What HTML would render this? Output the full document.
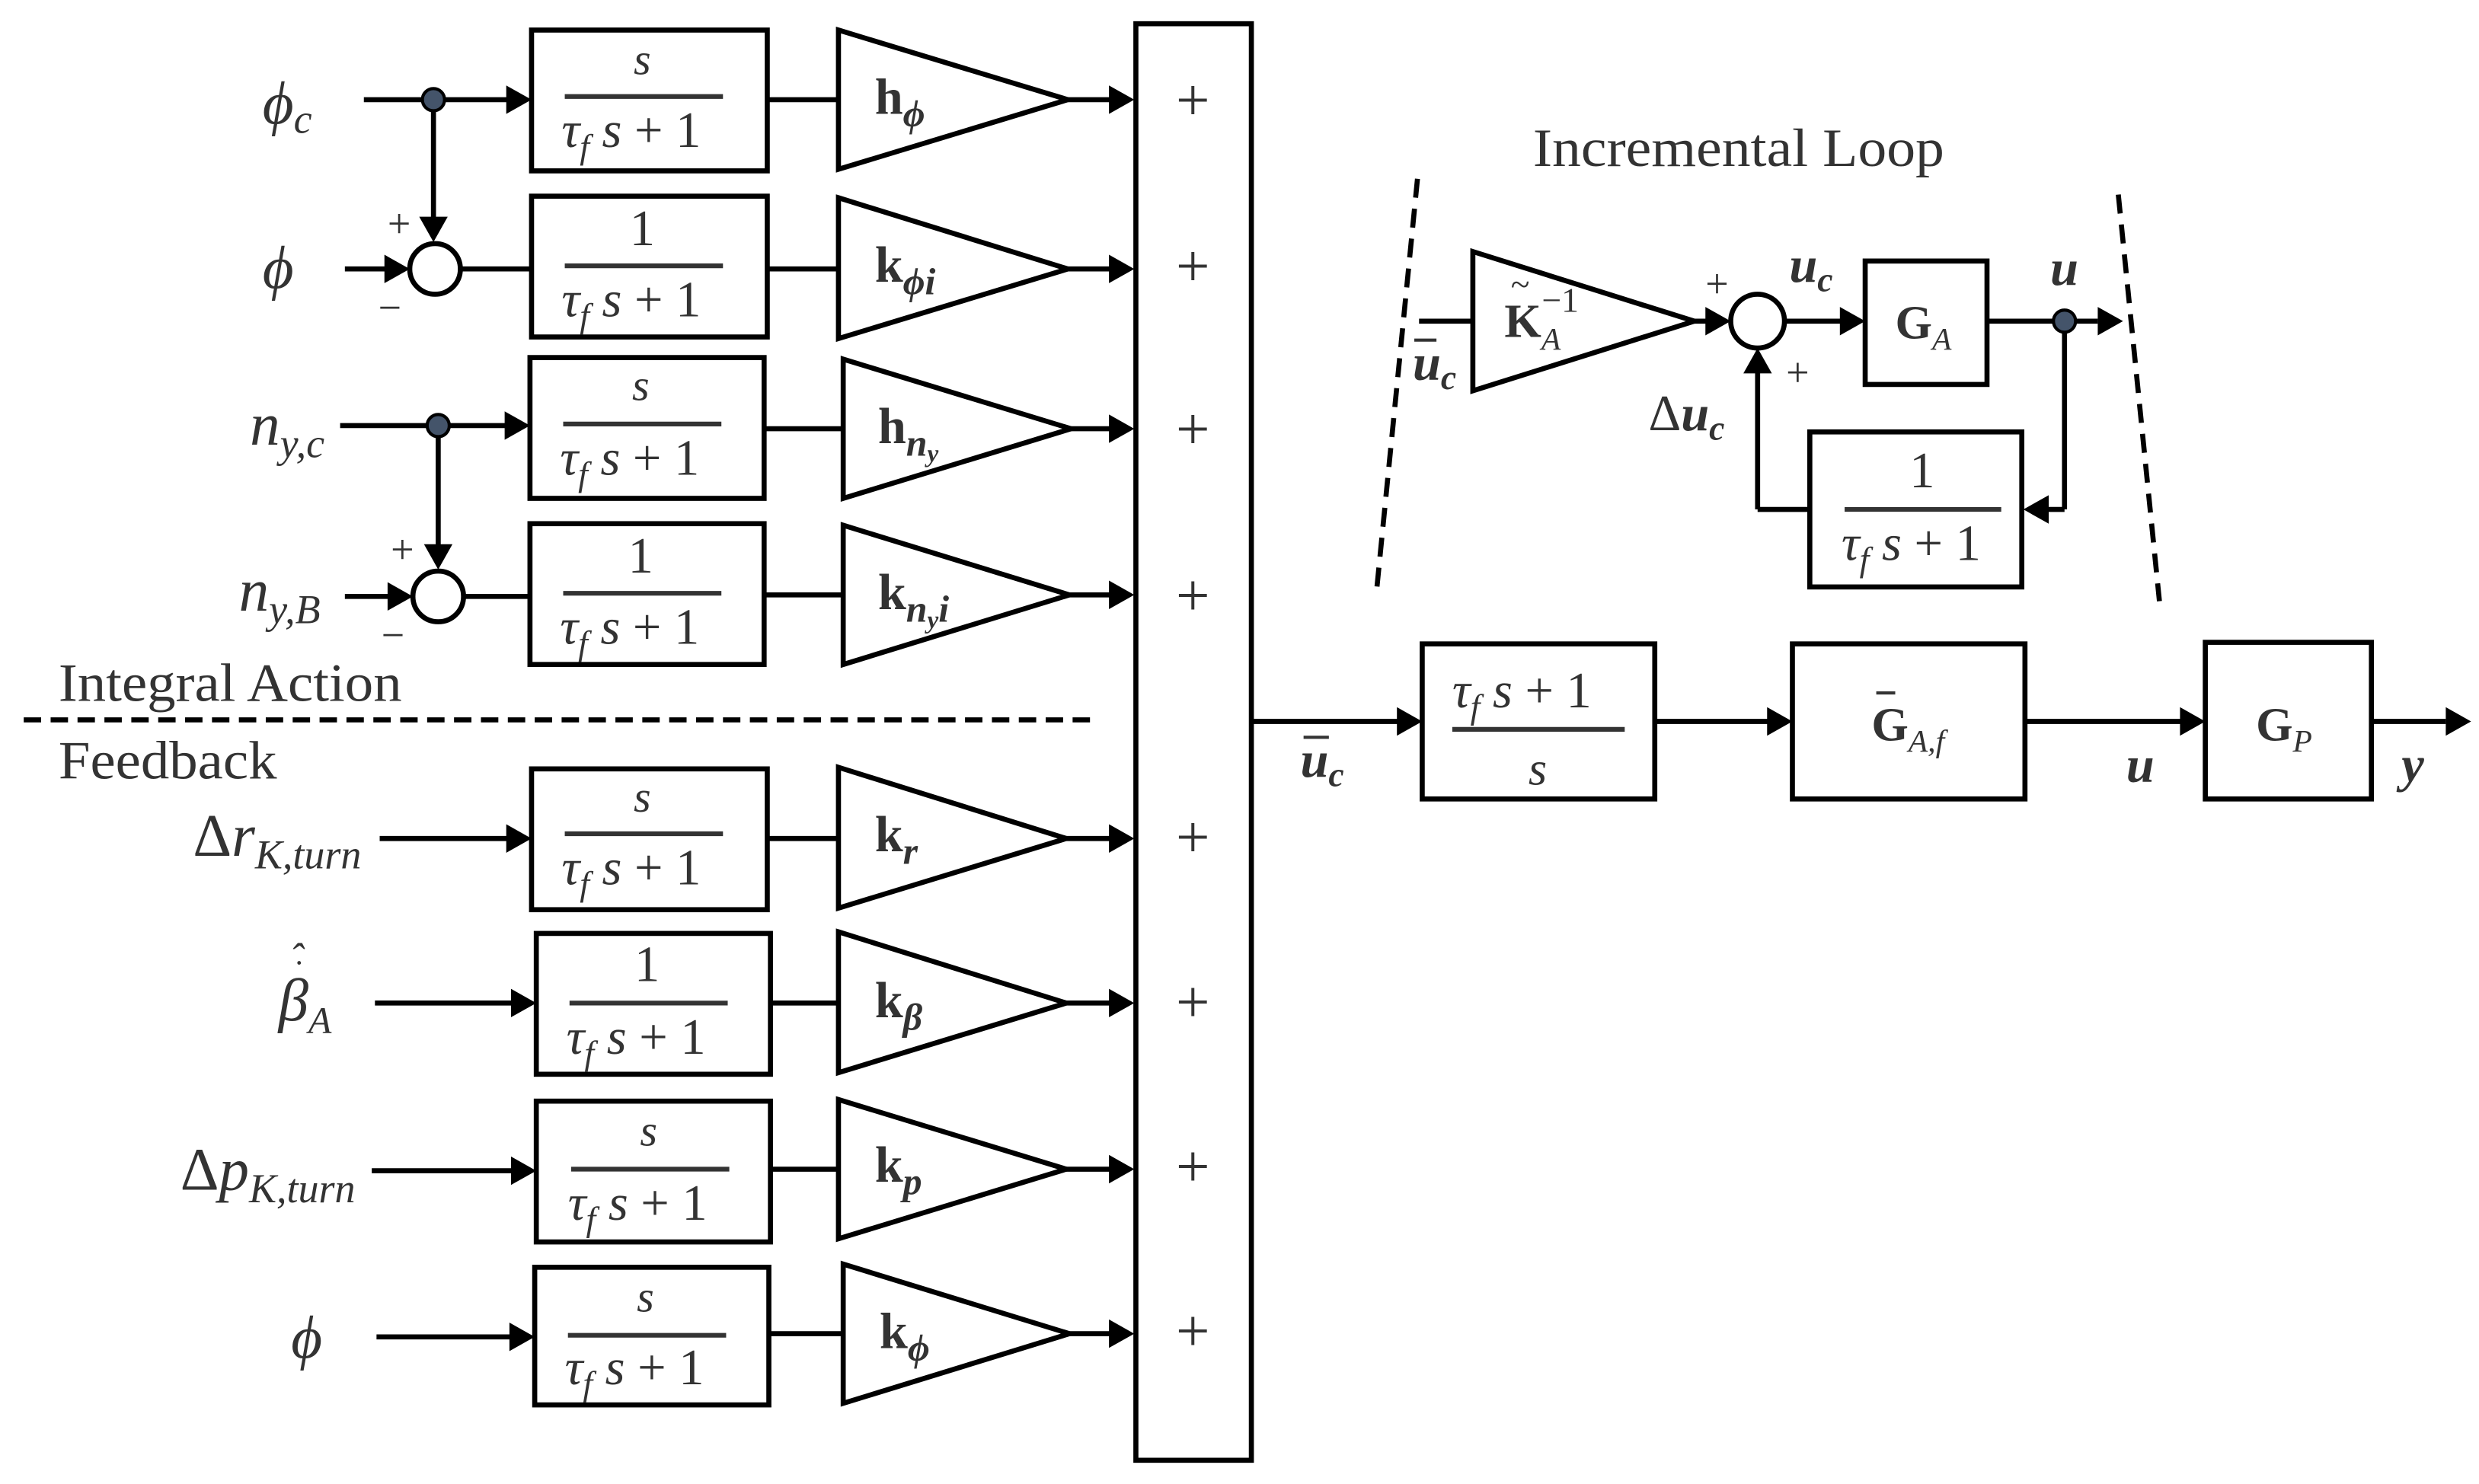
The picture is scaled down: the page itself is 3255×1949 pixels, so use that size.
<!DOCTYPE html>
<html><head><meta charset="utf-8">
<style>
html,body{margin:0;padding:0;background:#fff;}
svg{display:block;}
text{font-family:"Liberation Serif",serif;fill:#333;}
.i{font-style:italic;}
.b{font-weight:bold;}
</style></head>
<body>
<svg width="3255" height="1949" viewBox="0 0 1567 938" preserveAspectRatio="none" xmlns="http://www.w3.org/2000/svg">
<g stroke="#000" stroke-width="3.2" fill="none">
<rect x="336" y="19" width="149" height="89"/>
<rect x="336" y="124" width="149" height="89"/>
<rect x="335" y="226" width="148" height="89"/>
<rect x="335" y="331" width="148" height="89"/>
<rect x="336" y="486" width="149" height="89"/>
<rect x="339" y="590" width="148" height="89"/>
<rect x="339" y="696" width="148" height="89"/>
<rect x="338" y="801" width="148" height="87"/>
<polygon points="530,19 675,63 530,107"/>
<polygon points="530,125 675,170 530,214"/>
<polygon points="533,227 677,271 533,315"/>
<polygon points="533,332 676,376 533,420"/>
<polygon points="530,485 674,530 530,574"/>
<polygon points="530,589 674,634 530,678"/>
<polygon points="530,695 674,739 530,783"/>
<polygon points="533,799 676,843 533,887"/>
<line x1="485" y1="63" x2="530" y2="63"/>
<line x1="485" y1="170" x2="530" y2="170"/>
<line x1="483" y1="271" x2="533" y2="271"/>
<line x1="483" y1="376" x2="533" y2="376"/>
<line x1="485" y1="530" x2="530" y2="530"/>
<line x1="487" y1="634" x2="530" y2="634"/>
<line x1="487" y1="739" x2="530" y2="739"/>
<line x1="486" y1="843" x2="533" y2="843"/>
<line x1="675" y1="63" x2="705" y2="63"/>
<line x1="675" y1="170" x2="705" y2="170"/>
<line x1="677" y1="271" x2="705" y2="271"/>
<line x1="676" y1="376" x2="705" y2="376"/>
<line x1="674" y1="530" x2="705" y2="530"/>
<line x1="674" y1="634" x2="705" y2="634"/>
<line x1="674" y1="739" x2="705" y2="739"/>
<line x1="676" y1="843" x2="705" y2="843"/>
<rect x="718" y="15" width="73" height="908"/>
<line x1="230" y1="63" x2="322" y2="63"/>
<line x1="274" y1="63" x2="274" y2="140"/>
<line x1="218" y1="170" x2="245" y2="170"/>
<circle cx="275" cy="170" r="16" fill="#fff"/>
<line x1="291" y1="170" x2="336" y2="170"/>
<line x1="215" y1="269" x2="321" y2="269"/>
<line x1="277" y1="269" x2="277" y2="347"/>
<line x1="218" y1="377" x2="248" y2="377"/>
<circle cx="277" cy="377" r="16" fill="#fff"/>
<line x1="293" y1="377" x2="335" y2="377"/>
<line x1="240" y1="530" x2="322" y2="530"/>
<line x1="237" y1="634" x2="325" y2="634"/>
<line x1="235" y1="740" x2="325" y2="740"/>
<line x1="238" y1="845" x2="324" y2="845"/>
<line x1="15" y1="455" x2="690" y2="455" stroke-dasharray="11,6"/>
<line x1="791" y1="456" x2="885" y2="456"/>
<rect x="899" y="407" width="147" height="98"/>
<line x1="1046" y1="456" x2="1120" y2="456"/>
<rect x="1133" y="407" width="147" height="98"/>
<line x1="1280" y1="456" x2="1380" y2="456"/>
<rect x="1394" y="406" width="105" height="99"/>
<line x1="1499" y1="456" x2="1546" y2="456"/>
<line x1="896" y1="113" x2="870" y2="375" stroke-dasharray="12,7"/>
<line x1="1339" y1="123" x2="1365" y2="380" stroke-dasharray="12,7"/>
<line x1="897" y1="203" x2="931" y2="203"/>
<polygon points="931,159 1071,203 931,247"/>
<line x1="1071" y1="203" x2="1082" y2="203"/>
<circle cx="1111" cy="203" r="17" fill="#fff"/>
<line x1="1128" y1="203" x2="1165" y2="203"/>
<rect x="1179" y="165" width="77" height="78"/>
<line x1="1256" y1="203" x2="1326" y2="203"/>
<line x1="1305" y1="203" x2="1305" y2="322"/>
<line x1="1305" y1="322" x2="1292" y2="322"/>
<rect x="1144" y="273" width="134" height="98"/>
<line x1="1144" y1="322" x2="1111" y2="322"/>
<line x1="1111" y1="322" x2="1111" y2="234"/>
</g>
<g fill="#000">
<polygon points="336,63 320,54 320,72"/>
<polygon points="274,153 265,137 283,137"/>
<polygon points="259,170 243,161 243,179"/>
<polygon points="335,269 319,260 319,278"/>
<polygon points="277,360 268,344 286,344"/>
<polygon points="261,377 245,368 245,386"/>
<polygon points="336,530 320,521 320,539"/>
<polygon points="339,634 323,625 323,643"/>
<polygon points="339,740 323,731 323,749"/>
<polygon points="338,845 322,836 322,854"/>
<polygon points="717,63 701,54 701,72"/>
<polygon points="717,170 701,161 701,179"/>
<polygon points="717,271 701,262 701,280"/>
<polygon points="717,376 701,367 701,385"/>
<polygon points="717,530 701,521 701,539"/>
<polygon points="717,634 701,625 701,643"/>
<polygon points="717,739 701,730 701,748"/>
<polygon points="717,843 701,834 701,852"/>
<polygon points="899,456 883,447 883,465"/>
<polygon points="1133,456 1117,447 1117,465"/>
<polygon points="1394,456 1378,447 1378,465"/>
<polygon points="1562,456 1546,447 1546,465"/>
<polygon points="1094,203 1078,194 1078,212"/>
<polygon points="1179,203 1163,194 1163,212"/>
<polygon points="1342,203 1326,194 1326,212"/>
<polygon points="1279,322 1295,313 1295,331"/>
<polygon points="1111,220 1102,236 1120,236"/>
</g>
<g fill="#44546a" stroke="#000" stroke-width="2">
<circle cx="274" cy="63" r="7"/>
<circle cx="277" cy="269" r="7"/>
<circle cx="1305" cy="203" r="7"/>
</g>
<g stroke="#333" stroke-width="3">
<line x1="357" y1="61" x2="457" y2="61"/>
<line x1="357" y1="168" x2="457" y2="168"/>
<line x1="356" y1="268" x2="456" y2="268"/>
<line x1="356" y1="375" x2="456" y2="375"/>
<line x1="357" y1="527" x2="457" y2="527"/>
<line x1="360" y1="634" x2="460" y2="634"/>
<line x1="361" y1="739" x2="461" y2="739"/>
<line x1="359" y1="844" x2="459" y2="844"/>
<line x1="918" y1="461" x2="1027" y2="461"/>
<line x1="1166" y1="322" x2="1265" y2="322"/>
</g>
<g font-size="32" text-anchor="middle">
<text x="406" y="47" class="i" font-size="28">s</text>
<text x="406" y="155">1</text>
<text x="405" y="253" class="i" font-size="28">s</text>
<text x="405" y="362">1</text>
<text x="406" y="513" class="i" font-size="28">s</text>
<text x="409" y="620">1</text>
<text x="410" y="724" class="i" font-size="28">s</text>
<text x="408" y="829" class="i" font-size="28">s</text>
<text x="972" y="496" class="i" font-size="30">s</text>
<text x="1215" y="308">1</text>
</g>
<g font-size="32">
<text x="355" y="93"><tspan class="i">τ</tspan><tspan class="i" font-size="22" dy="7">f</tspan><tspan class="i" dy="-7"> s</tspan> + 1</text>
<text x="355" y="200"><tspan class="i">τ</tspan><tspan class="i" font-size="22" dy="7">f</tspan><tspan class="i" dy="-7"> s</tspan> + 1</text>
<text x="354" y="300"><tspan class="i">τ</tspan><tspan class="i" font-size="22" dy="7">f</tspan><tspan class="i" dy="-7"> s</tspan> + 1</text>
<text x="354" y="407"><tspan class="i">τ</tspan><tspan class="i" font-size="22" dy="7">f</tspan><tspan class="i" dy="-7"> s</tspan> + 1</text>
<text x="355" y="559"><tspan class="i">τ</tspan><tspan class="i" font-size="22" dy="7">f</tspan><tspan class="i" dy="-7"> s</tspan> + 1</text>
<text x="358" y="666"><tspan class="i">τ</tspan><tspan class="i" font-size="22" dy="7">f</tspan><tspan class="i" dy="-7"> s</tspan> + 1</text>
<text x="359" y="771"><tspan class="i">τ</tspan><tspan class="i" font-size="22" dy="7">f</tspan><tspan class="i" dy="-7"> s</tspan> + 1</text>
<text x="357" y="875"><tspan class="i">τ</tspan><tspan class="i" font-size="22" dy="7">f</tspan><tspan class="i" dy="-7"> s</tspan> + 1</text>
<text x="918" y="447"><tspan class="i">τ</tspan><tspan class="i" font-size="22" dy="7">f</tspan><tspan class="i" dy="-7"> s</tspan> + 1</text>
<text x="1164" y="354"><tspan class="i">τ</tspan><tspan class="i" font-size="22" dy="7">f</tspan><tspan class="i" dy="-7"> s</tspan> + 1</text>
</g>
<g font-size="32" class="b">
<text x="553" y="72" class="b">h<tspan class="i" font-size="24" dy="8">ϕ</tspan></text>
<text x="553" y="178" class="b">k<tspan class="i" font-size="24" dy="8">ϕi</tspan></text>
<text x="555" y="280" class="b">h<tspan class="i" font-size="24" dy="8">n<tspan font-size="16" dy="4">y</tspan></tspan></text>
<text x="555" y="385" class="b">k<tspan class="i" font-size="24" dy="8">n<tspan font-size="16" dy="4">y</tspan><tspan dy="-4">i</tspan></tspan></text>
<text x="553" y="538" class="b">k<tspan class="i" font-size="24" dy="8">r</tspan></text>
<text x="553" y="643" class="b">k<tspan class="i" font-size="24" dy="8">β</tspan></text>
<text x="553" y="747" class="b">k<tspan class="i" font-size="24" dy="8">p</tspan></text>
<text x="556" y="852" class="b">k<tspan class="i" font-size="24" dy="8">ϕ</tspan></text>
</g>
<g font-size="38" text-anchor="middle">
<text x="754" y="76" fill="#000">+</text>
<text x="754" y="181" fill="#000">+</text>
<text x="754" y="284" fill="#000">+</text>
<text x="754" y="389" fill="#000">+</text>
<text x="754" y="542" fill="#000">+</text>
<text x="754" y="646" fill="#000">+</text>
<text x="754" y="750" fill="#000">+</text>
<text x="754" y="854" fill="#000">+</text>
</g>
<g font-size="26">
<text x="245" y="150" fill="#000">+</text>
<text x="239" y="203" fill="#000">−</text>
<text x="247" y="356" fill="#000">+</text>
<text x="241" y="410" fill="#000">−</text>
<text x="1078" y="188" fill="#000">+</text>
<text x="1129" y="244" fill="#000">+</text>
</g>
<g font-size="38" class="i">
<text x="166" y="78" class="i" fill="#000">ϕ<tspan font-size="26" dy="6">c</tspan></text>
<text x="166" y="182" class="i" fill="#000">ϕ</text>
<text x="158" y="281" class="i" fill="#000">n<tspan font-size="26" dy="8">y,c</tspan></text>
<text x="151" y="386" class="i" fill="#000">n<tspan font-size="26" dy="8">y,B</tspan></text>
<text x="122" y="541" fill="#000" class="i"><tspan font-style="normal">Δ</tspan>r<tspan font-size="26" dy="8">K,turn</tspan></text>
<text x="176" y="645" class="i" fill="#000">β<tspan font-size="24" dy="8">A</tspan></text>
<text x="183" y="614" class="i" fill="#000" font-size="26">ˆ</text>
<text x="184" y="622" class="i" fill="#000" font-size="22">˙</text>
<text x="114" y="752" fill="#000" class="i"><tspan font-style="normal">Δ</tspan>p<tspan font-size="26" dy="8">K,turn</tspan></text>
<text x="184" y="858" class="i" fill="#000">ϕ</text>
</g>
<g font-size="34">
<text x="37" y="443" fill="#000" textLength="217" lengthAdjust="spacingAndGlyphs">Integral Action</text>
<text x="37" y="492" fill="#000" textLength="138" lengthAdjust="spacingAndGlyphs">Feedback</text>
<text x="969" y="105" font-size="34" fill="#000" textLength="260" lengthAdjust="spacingAndGlyphs">Incremental Loop</text>
</g>
<g font-size="32" class="i b">
<text x="822" y="491" class="i b">u<tspan font-size="22" dy="6">c</tspan></text>
<line x1="824" y1="466" x2="840" y2="466" stroke="#333" stroke-width="2"/>
<text x="1344" y="494" class="i b">u</text>
<text x="1518" y="494" class="i b">y</text>
<text x="893" y="240" class="i b">u<tspan font-size="22" dy="6">c</tspan></text>
<line x1="894" y1="215" x2="908" y2="215" stroke="#333" stroke-width="2"/>
<text x="1131" y="178" class="i b">u<tspan font-size="22" dy="6">c</tspan></text>
<text x="1296" y="180" class="i b">u</text>
<text x="1042" y="272" class="i b"><tspan font-style="normal" font-weight="normal">Δ</tspan>u<tspan font-size="22" dy="6">c</tspan></text>
</g>
<g font-size="30">
<text x="951" y="213" class="b">K<tspan font-size="20" class="i" font-weight="normal" dy="8">A</tspan><tspan font-size="22" font-weight="normal" dx="-12" dy="-24">−1</tspan></text>
<text x="955" y="187" font-size="22">~</text>
<text x="1198" y="214" class="b">G<tspan font-size="20" class="i" font-weight="normal" dy="7">A</tspan></text>
<text x="1183" y="468" class="b">G<tspan font-size="20" class="i" font-weight="normal" dy="7">A,f</tspan></text>
<line x1="1186" y1="438" x2="1198" y2="438" stroke="#333" stroke-width="2"/>
<text x="1426" y="468" class="b">G<tspan font-size="20" class="i" font-weight="normal" dy="7">P</tspan></text>
</g>
</svg>
</body></html>
